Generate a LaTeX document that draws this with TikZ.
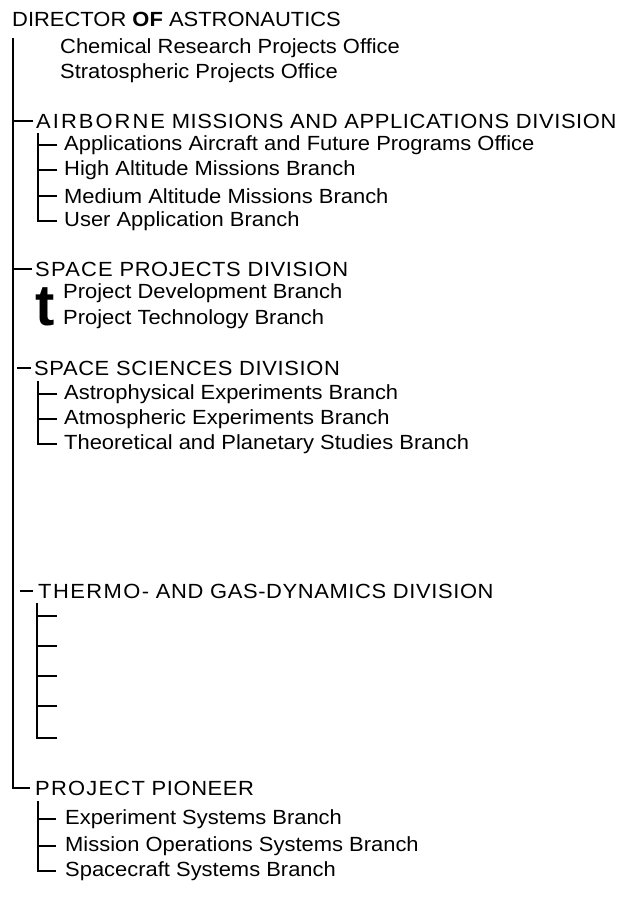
\documentclass[tikz,border=0pt]{standalone}
\usepackage{fontspec}
\setmainfont{Liberation Sans}[FakeStretch=1.07]
\newfontfamily\plainsans{Liberation Sans}
\begin{document}
\begin{tikzpicture}[x=1pt,y=-1pt,
  txt/.style={anchor=west,inner sep=0pt,font=\fontsize{20.5}{22}\selectfont},
  divtxt/.style={txt,font=\fontsize{20.5}{22}\selectfont\addfontfeature{LetterSpace=3}},
  trunk/.style={line width=2pt},
  twig/.style={line width=1.4pt}]
\useasboundingbox (0,0) rectangle (626,899);
% heading
\node[txt] (dir) at (12,19) {DIRECTOR \textbf{OF} ASTRONAUTICS};
\node[txt] (chem) at (60,48) {Chemical Research Projects Office};
\node[txt] (strat) at (60,73) {Stratospheric Projects Office};
% divisions
\node[divtxt] (amad) at (36,121) {{\addfontfeature{LetterSpace=10}AIRBORNE} MISSIONS AND APPLICATIONS DIVISION};
\node[txt] (aafp) at (64,145) {Applications Aircraft and Future Programs Office};
\node[txt] (ham) at (64,170) {High Altitude Missions Branch};
\node[txt] (mam) at (64,196) {Medium Altitude Missions Branch};
\node[txt] (uab) at (64,221) {User Application Branch};
\node[divtxt] (spd) at (35,269) {{\addfontfeature{LetterSpace=6}SPACE} PROJECTS DIVISION};
\node[anchor=base west,inner sep=0pt,font=\fontsize{58}{58}\plainsans\bfseries] (bigt) at (35,325) {t};
\node[txt] (pdb) at (63,293) {Project Development Branch};
\node[txt] (ptb) at (63,319) {Project Technology Branch};
\node[divtxt] (ssd) at (34,368) {SPACE SCIENCES DIVISION};
\node[txt] (aeb) at (64,394) {Astrophysical Experiments Branch};
\node[txt] (atb) at (64,419) {Atmospheric Experiments Branch};
\node[txt] (tpb) at (64,444) {Theoretical and Planetary Studies Branch};
\node[divtxt] (tgd) at (38,591) {{\addfontfeature{LetterSpace=7}THERMO-} AND GAS-DYNAMICS DIVISION};
\node[divtxt] (pp) at (35,788) {{\addfontfeature{LetterSpace=6}PROJECT} PIONEER};
\node[txt] (esb) at (65,819) {Experiment Systems Branch};
\node[txt] (mos) at (65,846) {Mission Operations Systems Branch};
\node[txt] (scb) at (65,871) {Spacecraft Systems Branch};
% trunk coordinates
\coordinate (ttop) at (13,38);
\coordinate (tamad) at (13,121);
\coordinate (tspd) at (13,269);
\coordinate (tssd) at (17,368);
\coordinate (ttgd) at (20,591);
% thermo free ends
\coordinate (th1) at (57,616);
\coordinate (th2) at (57,646);
\coordinate (th3) at (57,676);
\coordinate (th4) at (57,706);
\coordinate (th5) at (57,738);
% main trunk
\draw[trunk] (ttop) |- ([xshift=-5pt]pp.west);
\draw[twig] (tamad) -- ([xshift=-3pt]amad.west);
\draw[twig] (tspd) -- ([xshift=-3pt]spd.west);
\draw[trunk] (tssd) -- ([xshift=-3pt]ssd.west);
\draw[twig] (ttgd) -- ([xshift=-5pt]tgd.west);
% airborne branch
\draw[twig] (38,133) |- ([xshift=-7pt]uab.west);
\draw[twig] (38,145) -- ([xshift=-7pt]aafp.west);
\draw[twig] (38,170) -- ([xshift=-7pt]ham.west);
\draw[twig] (38,196) -- ([xshift=-7pt]mam.west);
% space sciences
\draw[twig] (38,381) |- ([xshift=-7pt]tpb.west);
\draw[twig] (38,394) -- ([xshift=-7pt]aeb.west);
\draw[twig] (38,419) -- ([xshift=-7pt]atb.west);
% thermo
\draw[twig] (37,603) |- (th5);
\draw[twig] (37,616) -- (th1);
\draw[twig] (37,646) -- (th2);
\draw[twig] (37,676) -- (th3);
\draw[twig] (37,706) -- (th4);
% pioneer
\draw[twig] (38,801) |- ([xshift=-9pt]scb.west);
\draw[twig] (38,819) -- ([xshift=-9pt]esb.west);
\draw[twig] (38,846) -- ([xshift=-9pt]mos.west);
\end{tikzpicture}
\end{document}
